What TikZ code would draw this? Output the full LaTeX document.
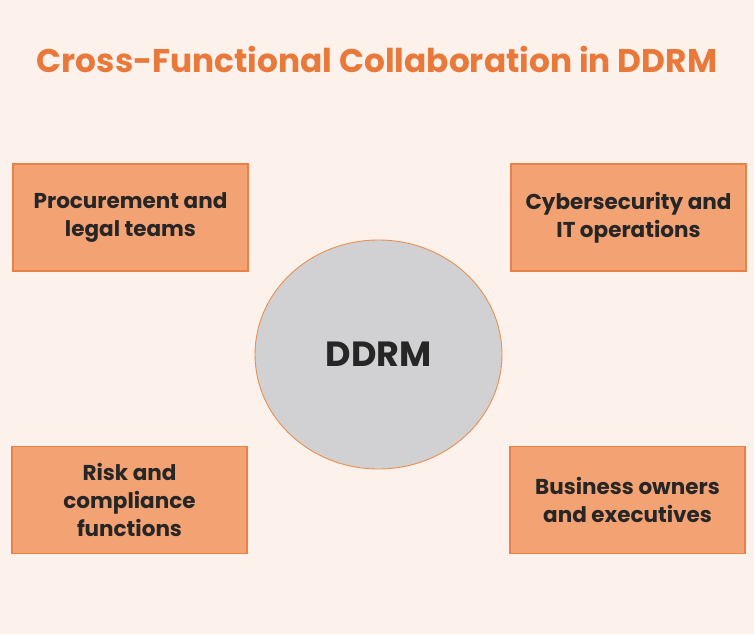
\documentclass[tikz,border=0pt]{standalone}
\usepackage{fontspec}
\setmainfont{Poppins}
\usetikzlibrary{positioning, shapes.geometric}

\definecolor{bgpeach}{HTML}{FDF1EC}
\definecolor{titleorange}{HTML}{E8793A}
\definecolor{boxfill}{HTML}{F2A273}
\definecolor{boxline}{HTML}{EB8046}
\definecolor{hubfill}{HTML}{D1D1D3}
\definecolor{hubline}{HTML}{E8904F}

\begin{document}
\begin{tikzpicture}[x=1pt, y=-1pt]
        \tikzset{
            team/.style={draw=boxline, line width=1.6pt, fill=boxfill, minimum width=235pt,
                minimum height=107pt, align=center, text=black!85,
                font=\fontsize{21.5}{28}\selectfont\bfseries},
            hub/.style={ellipse, draw=hubline, line width=0.9pt, fill=hubfill,
                minimum width=247pt, minimum height=229pt, text=black!85,
                font=\fontsize{35}{40}\selectfont\bfseries}
        }
        % background and size
        \fill[bgpeach] (0,0) rectangle (754,634);
        \useasboundingbox (0,0) rectangle (754,634);

        \node[text=titleorange, font=\fontsize{32.8}{40}\selectfont\bfseries] (title) at (377,59.5)
            {Cross-Functional Collaboration in DDRM};

        % centre
        \node[hub] (ddrm) at (378.5,354.5) {DDRM};

        % the four teams
        \node[team] (procure) at (130.5,217.5) {Procurement and\\legal teams};
        \node[team] (cyber) at (628.5,217.5) {Cybersecurity and\\IT operations};
        \node[team] (risk) at (129.5,500) {Risk and\\compliance\\functions};
        \node[team] (business) at (627.5,500) {Business owners\\and executives};
    \end{tikzpicture}
\end{document}
